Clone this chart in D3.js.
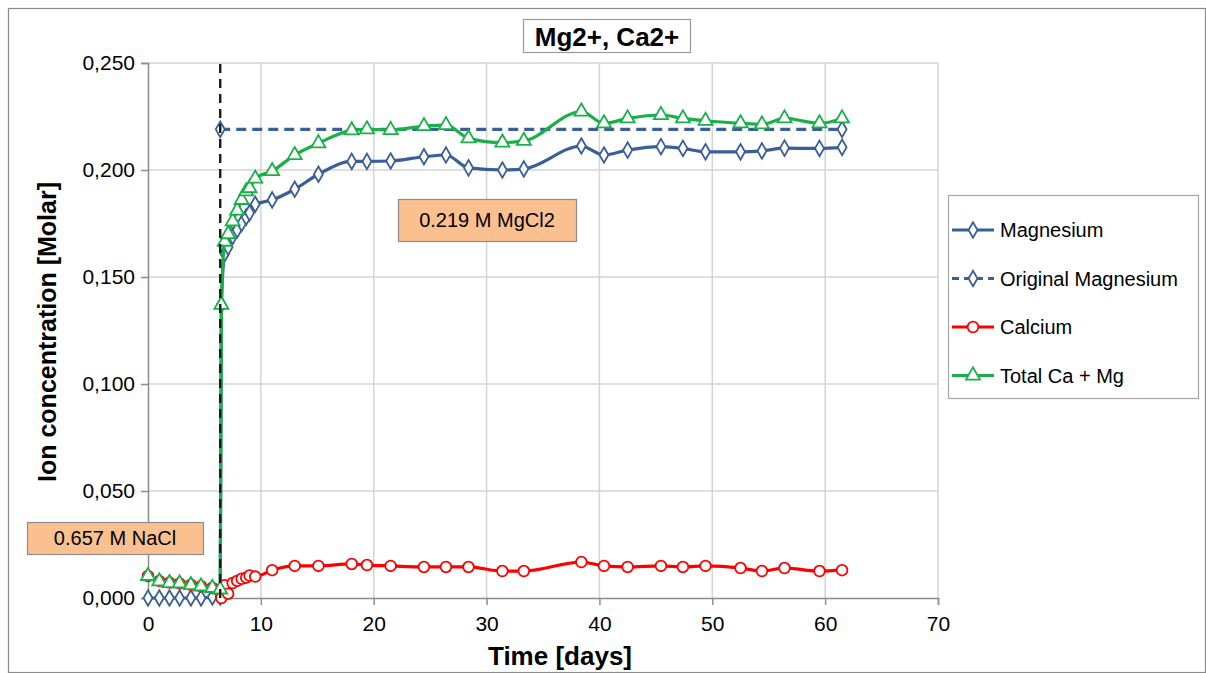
<!DOCTYPE html>
<html><head><meta charset="utf-8">
<script src="https://cdn.jsdelivr.net/npm/d3@7"></script>
<style>html,body{margin:0;padding:0;background:#fff;}svg{display:block;font-family:Arial,"Liberation Sans",sans-serif;}</style>
</head><body>
<svg id="chart" width="1206" height="673"></svg>
<script>
// ---- data ----
const days = [0, 1, 1.9, 2.8, 3.8, 4.7, 5.7, 6.4, 6.5, 6.8, 7.1, 7.5, 7.9, 8.3, 8.7, 9.0, 9.5, 11.0, 13.0, 15.1, 18.05, 19.4, 21.5, 24.45, 26.4, 28.4, 31.4, 33.3, 38.4, 40.4, 42.5, 45.45, 47.4, 49.4, 52.5, 54.4, 56.4, 59.5, 61.5];
const magnesium = [0.000, 0.000, 0.000, 0.000, 0.000, 0.000, 0.0005, 0.0005, 0.137, 0.161, 0.164, 0.169, 0.172, 0.175, 0.178, 0.180, 0.184, 0.186, 0.191, 0.198, 0.204, 0.204, 0.2042, 0.2062, 0.207, 0.201, 0.200, 0.2005, 0.2112, 0.207, 0.2093, 0.2109, 0.2101, 0.2085, 0.2085, 0.2089, 0.2102, 0.2101, 0.2106];
const calcium = [0.0103, 0.0080, 0.0072, 0.0068, 0.0062, 0.0055, 0.0048, 0.0040, 0.0000, 0.0060, 0.0020, 0.0070, 0.0080, 0.0090, 0.0095, 0.0105, 0.0100, 0.0130, 0.0150, 0.0150, 0.0159, 0.0154, 0.0150, 0.0145, 0.0145, 0.0145, 0.0126, 0.0126, 0.0168, 0.0150, 0.0145, 0.0150, 0.0145, 0.0150, 0.0140, 0.0126, 0.0140, 0.0126, 0.0130];
const totalCaMg = [0.0103, 0.0078, 0.0070, 0.0068, 0.0060, 0.0054, 0.0047, 0.0040, 0.137, 0.1665, 0.170, 0.176, 0.181, 0.186, 0.190, 0.1915, 0.196, 0.1995, 0.207, 0.2125, 0.2185, 0.219, 0.2187, 0.2205, 0.221, 0.2148, 0.2128, 0.2136, 0.2273, 0.2218, 0.2241, 0.2257, 0.2241, 0.2230, 0.2218, 0.2213, 0.2241, 0.2218, 0.2241];
const originalDays = [6.4, 61.5];
const originalMagnesium = [0.219, 0.219];
const switchDays = [6.4, 6.4];
const switchValues = [0.000, 0.250];
const xTicks = [0, 10, 20, 30, 40, 50, 60, 70];
const yTicks = [0, 0.05, 0.10, 0.15, 0.20, 0.25];
const seriesNames = ["Magnesium", "Original Magnesium", "Calcium", "Total Ca + Mg"];
const chartTitle = "Mg2+, Ca2+";
const xTitle = "Time [days]";
const yTitle = "Ion concentration [Molar]";
const noteMg = "0.219 M MgCl2";
const noteNa = "0.657 M NaCl";

// ---- layout ----
const svg = d3.select("#chart");
const L = 148, R = 938, T = 63, B = 598;
const x = d3.scaleLinear().domain([0, 70]).range([L, R]);
const y = d3.scaleLinear().domain([0, 0.25]).range([B, T]);
const BLUE = "#3a5e98", RED = "#ff0000", GREEN = "#19b04a";

// outer frame
svg.append("rect").attr("x", 8.5).attr("y", 8.5).attr("width", 1197).attr("height", 664)
  .attr("fill", "#fff").attr("stroke", "#8a8a8a").attr("stroke-width", 1.2);

// grid
svg.append("g").selectAll("line.h").data(yTicks.slice(1)).join("line")
  .attr("x1", L).attr("x2", R).attr("y1", d => y(d)).attr("y2", d => y(d))
  .attr("stroke", "#d4d4d4").attr("stroke-width", 1.5);
svg.append("g").selectAll("line.v").data(xTicks.slice(1)).join("line")
  .attr("x1", d => x(d)).attr("x2", d => x(d)).attr("y1", T).attr("y2", B)
  .attr("stroke", "#d4d4d4").attr("stroke-width", 1.5);

// axes
const fmtY = v => d3.format(".3f")(v).replace(".", ",");
const yAxis = svg.append("g").attr("transform", `translate(${L},0)`)
  .call(d3.axisLeft(y).tickValues(yTicks).tickFormat(fmtY).tickSize(7).tickPadding(6));
const xAxis = svg.append("g").attr("transform", `translate(0,${B})`)
  .call(d3.axisBottom(x).tickValues(xTicks).tickFormat(d3.format("d")).tickSize(7).tickPadding(11));
[yAxis, xAxis].forEach(a => {
  a.select(".domain").attr("stroke", "#8c8c8c").attr("stroke-width", 1.5);
  a.selectAll(".tick line").attr("stroke", "#8c8c8c").attr("stroke-width", 1.5);
  a.selectAll(".tick text").attr("fill", "#000").style("font-size", "21px").style("font-family", "Arial, 'Liberation Sans', sans-serif");
});

// axis titles
svg.append("text").attr("x", 560).attr("y", 665).attr("text-anchor", "middle")
  .style("font-size", "26px").style("font-weight", "bold").text(xTitle);
svg.append("text").attr("transform", "translate(56,332) rotate(-90)").attr("text-anchor", "middle")
  .style("font-size", "25px").style("font-weight", "bold").text(yTitle);

// title with box
svg.append("rect").attr("x", 523.5).attr("y", 19.5).attr("width", 167).attr("height", 33)
  .attr("fill", "#fff").attr("stroke", "#9a9a9a").attr("stroke-width", 1.2);
svg.append("text").attr("x", 607).attr("y", 46).attr("text-anchor", "middle")
  .style("font-size", "26px").style("font-weight", "bold").text(chartTitle);

// series helpers
const curve = d3.curveMonotoneX;
function pts(xs, ys) { return xs.map((d, i) => [d, ys[i]]); }
const line = d3.line().x(d => x(d[0])).y(d => y(d[1])).curve(curve);

const mgPts = pts(days, magnesium), caPts = pts(days, calcium), totPts = pts(days, totalCaMg);
const origPts = pts(originalDays, originalMagnesium);

function drawLine(data, color, dash, straight) {
  svg.append("path").datum(data).attr("fill", "none").attr("stroke", color)
    .attr("stroke-width", 3.2).attr("stroke-dasharray", dash || null)
    .attr("stroke-linejoin", "round")
    .attr("d", straight ? d3.line().x(d => x(d[0])).y(d => y(d[1]))(data) : line(data));
}
const sym = {
  diamond: d3.symbol().type(d3.symbolDiamond).size(70),
  circle: d3.symbol().type(d3.symbolCircle).size(90),
  triangle: d3.symbol().type(d3.symbolTriangle).size(85)
};
function drawMarkers(data, color, shape) {
  svg.append("g").selectAll("path").data(data).join("path")
    .attr("transform", d => `translate(${x(d[0])},${y(d[1])})`)
    .attr("d", sym[shape]()).attr("fill", "#fff").attr("stroke", color).attr("stroke-width", 1.8);
}

drawLine(mgPts, BLUE);
drawMarkers(mgPts, BLUE, "diamond");
drawLine(origPts, BLUE, "10,6", true);
drawMarkers(origPts, BLUE, "diamond");
drawLine(caPts, RED);
drawMarkers(caPts, RED, "circle");
drawLine(totPts, GREEN);
drawMarkers(totPts, GREEN, "triangle");

// switch line (NaCl -> MgCl2)
svg.append("path").datum(pts(switchDays, switchValues)).attr("fill", "none")
  .attr("stroke", "#1a1a1a").attr("stroke-width", 2.4).attr("stroke-dasharray", "9,6")
  .attr("d", d3.line().x(d => x(d[0])).y(d => y(d[1])));

// annotations
function note(txt, x0, y0, w, h) {
  svg.append("rect").attr("x", x0 + 0.5).attr("y", y0 + 0.5).attr("width", w).attr("height", h)
    .attr("fill", "#fac090").attr("stroke", "#8c8c8c").attr("stroke-width", 1.2);
  svg.append("text").attr("x", x0 + w / 2).attr("y", y0 + h / 2 + 7).attr("text-anchor", "middle")
    .style("font-size", "20px").text(txt);
}
note(noteMg, 398, 199, 178, 42);
note(noteNa, 27, 522, 176, 32);

// legend
const lg = svg.append("g");
lg.append("rect").attr("x", 948.5).attr("y", 195.5).attr("width", 250).attr("height", 203)
  .attr("fill", "#fff").attr("stroke", "#a6a6a6").attr("stroke-width", 1.2);
const legendItems = [
  {name: seriesNames[0], color: BLUE, dash: null, shape: "diamond"},
  {name: seriesNames[1], color: BLUE, dash: "7,5", shape: "diamond"},
  {name: seriesNames[2], color: RED, dash: null, shape: "circle"},
  {name: seriesNames[3], color: GREEN, dash: null, shape: "triangle"}
];
legendItems.forEach((it, i) => {
  const cy = 230 + i * 48.5;
  lg.append("line").attr("x1", 952).attr("x2", 994).attr("y1", cy).attr("y2", cy)
    .attr("stroke", it.color).attr("stroke-width", 3).attr("stroke-dasharray", it.dash);
  lg.append("path").attr("transform", `translate(973,${cy})`).attr("d", sym[it.shape]())
    .attr("fill", "#fff").attr("stroke", it.color).attr("stroke-width", 1.8);
  lg.append("text").attr("x", 1000).attr("y", cy + 7).style("font-size", "20px").text(it.name);
});
</script>
</body></html>
